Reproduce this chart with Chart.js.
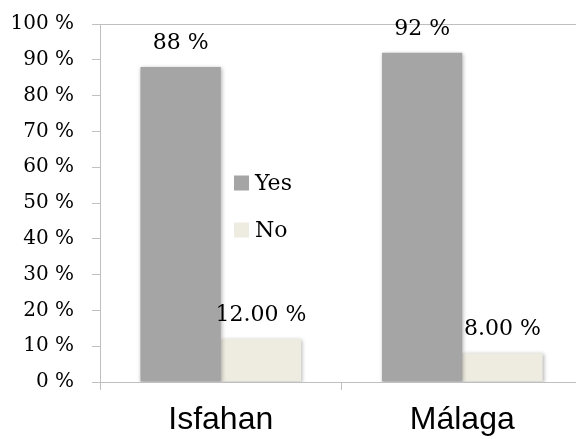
<!DOCTYPE html>
<html>
<head>
<meta charset="utf-8">
<script src="https://cdn.jsdelivr.net/npm/chart.js@4/dist/chart.umd.min.js"></script>
<style>
  html, body { margin: 0; padding: 0; background: #ffffff; overflow: hidden; }
  #wrap { width: 584px; height: 439px; position: relative; }
</style>
</head>
<body>
<div id="wrap"><canvas id="chart"></canvas></div>
<script>
// Survey answers per city, in percent
const cities = ['Isfahan', 'Málaga'];
const yesShare = [88, 92];
const noShare = [12, 8];
const seriesNames = ['Yes', 'No'];
const yTicks = [0, 10, 20, 30, 40, 50, 60, 70, 80, 90, 100];

const serif = '"DejaVu Serif", "Liberation Serif", serif';
const sans = '"Liberation Sans", Arial, sans-serif';
const axisGray = '#bfbfbf';

// Soft drop shadow under the bars
const barShadow = {
  id: 'barShadow',
  beforeDatasetsDraw(chart) {
    const ctx = chart.ctx;
    ctx.save();
    ctx.shadowColor = 'rgba(0,0,0,0.30)';
    ctx.shadowBlur = 4;
    ctx.shadowOffsetX = 1;
    ctx.shadowOffsetY = 1;
  },
  afterDatasetsDraw(chart) {
    chart.ctx.restore();
  }
};

// Value labels above each bar
const valueLabels = {
  id: 'valueLabels',
  afterDatasetsDraw(chart) {
    const ctx = chart.ctx;
    ctx.save();
    ctx.font = '22px ' + serif;
    ctx.fillStyle = '#000000';
    ctx.textAlign = 'center';
    ctx.textBaseline = 'alphabetic';
    chart.data.datasets.forEach((ds, di) => {
      const meta = chart.getDatasetMeta(di);
      meta.data.forEach((bar, i) => {
        const v = ds.data[i];
        const text = di === 0 ? v + ' %' : v.toFixed(2) + ' %';
        ctx.fillText(text, bar.x, bar.y - 18);
      });
    });
    ctx.restore();
  }
};

// Legend placed inside the plot area
const innerLegend = {
  id: 'innerLegend',
  afterDraw(chart) {
    const ctx = chart.ctx;
    const area = chart.chartArea;
    const x0 = area.left + 134;
    let y = area.top + 159;
    ctx.save();
    ctx.font = '22px ' + serif;
    ctx.textBaseline = 'middle';
    ctx.textAlign = 'left';
    chart.data.datasets.forEach((ds) => {
      ctx.fillStyle = ds.backgroundColor;
      ctx.fillRect(x0, y - 7.5, 15, 15);
      ctx.fillStyle = '#000000';
      ctx.fillText(ds.label, x0 + 21, y + 1);
      y += 47;
    });
    ctx.restore();
  }
};

new Chart(document.getElementById('chart'), {
  type: 'bar',
  data: {
    labels: cities,
    datasets: [
      { label: seriesNames[0], data: yesShare, backgroundColor: '#a5a5a5' },
      { label: seriesNames[1], data: noShare, backgroundColor: '#eeece1' }
    ]
  },
  options: {
    responsive: true,
    maintainAspectRatio: false,
    animation: false,
    layout: { padding: { top: 24, right: 1, bottom: 0, left: 0 } },
    datasets: { bar: { categoryPercentage: 0.665, barPercentage: 1.0 } },
    plugins: { legend: { display: false }, tooltip: { enabled: false } },
    scales: {
      x: {
        afterFit(scale) {
          scale.height = 57;
          scale.paddingLeft = 0;
          scale.paddingRight = 0;
        },
        grid: {
          offset: true,
          drawOnChartArea: false,
          tickLength: 8,
          tickColor: axisGray
        },
        border: { color: axisGray, width: 1 },
        ticks: {
          color: '#000000',
          padding: 11,
          font: { family: sans, size: 32 }
        }
      },
      y: {
        min: 0,
        max: 100,
        afterBuildTicks(scale) {
          scale.ticks = yTicks.map(v => ({ value: v }));
        },
        afterFit(scale) {
          scale.width = 100;
          scale.paddingTop = 0;
          scale.paddingBottom = 0;
        },
        grid: {
          tickLength: 8,
          tickColor: axisGray,
          color: (c) => (c.tick && c.tick.value === 100 ? axisGray : 'rgba(0,0,0,0)')
        },
        border: { color: axisGray, width: 1 },
        ticks: {
          color: '#000000',
          padding: 18,
          font: { family: serif, size: 20 },
          callback: (v) => v + ' %'
        }
      }
    }
  },
  plugins: [barShadow, valueLabels, innerLegend]
});
</script>
</body>
</html>
